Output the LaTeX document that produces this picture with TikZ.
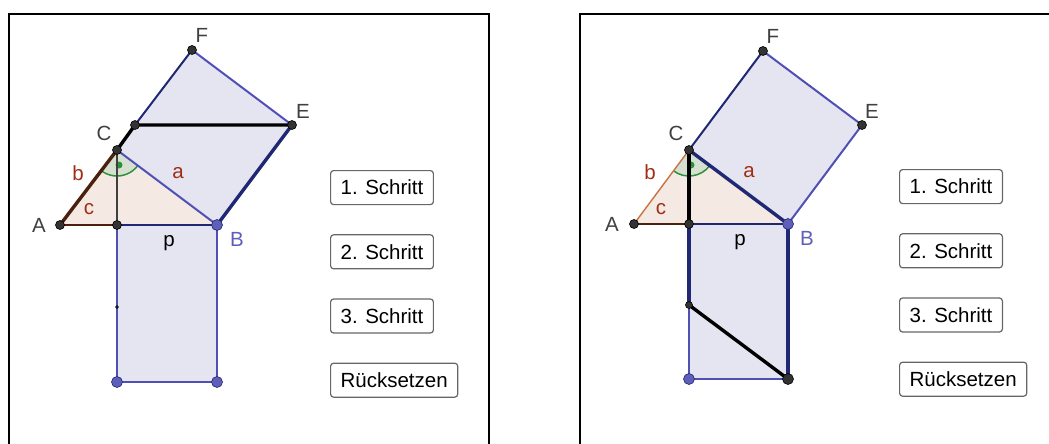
\documentclass[tikz,border=0pt]{standalone}
\usepackage{fontspec}
\setmainfont{Liberation Sans}
\usepackage{xcolor}
\usepackage{tikz}
\usetikzlibrary{positioning, angles}

\definecolor{lavendel}{RGB}{229,229,242}
\definecolor{rosa}{RGB}{245,233,228}
\definecolor{kante}{RGB}{80,80,180}
\definecolor{dunkelblau}{RGB}{32,40,115}
\definecolor{braun}{RGB}{75,32,15}
\definecolor{ocker}{RGB}{200,115,65}
\definecolor{rotbraun}{RGB}{160,45,20}
\definecolor{grau}{RGB}{64,64,64}
\definecolor{punktblau}{RGB}{95,95,185}
\definecolor{gruen}{RGB}{45,145,60}
\definecolor{winkel}{RGB}{214,224,208}

\begin{document}
\begin{tikzpicture}[x=1pt, y=-1pt, font=\fontsize{20.5}{24}\selectfont]

\tikzstyle{knopf} =
[rectangle,
rounded corners=3pt,
minimum height=34pt,
inner xsep=10pt,
inner ysep=0pt,
draw=black!60,
line width=1.2pt]

\tikzstyle{punkt} =
[circle,
inner sep=0pt,
minimum size=9pt,
fill=black!80,
draw=black,
line width=0.6pt]

\tikzstyle{bpunkt} =
[punkt,
minimum size=11pt,
fill=punktblau,
draw=dunkelblau]

\tikzstyle{ptname} = [inner sep=0pt, text=grau]
\tikzstyle{seite} = [inner sep=0pt, text=rotbraun]
\tikzstyle{duenn} = [line width=2pt, line cap=round]
\tikzstyle{dick} = [line width=3.4pt, line cap=round]

\useasboundingbox (0,0) rectangle (1049,444);

% Rahmen
\draw[line width=2.5pt] (9,450) -- (9,14) -- (489,14) -- (489,450);
\draw[line width=2.5pt] (580,450) -- (580,14) -- (1060,14);

% linkes Bild: 1. Schritt
\begin{scope}
\coordinate (A1) at (60,225);
\coordinate (H1) at (117,225);
\coordinate (B1) at (217,225);
\coordinate (C1) at (117,150);
\coordinate (E1) at (292,125);
\coordinate (F1) at (192,50);
\coordinate (G1) at (135,125);
\coordinate (P1) at (117,307);
\coordinate (R1) at (117,382);
\coordinate (S1) at (217,382);

\fill[lavendel] (C1) -- (B1) -- (E1) -- (F1) -- cycle;
\fill[lavendel] (H1) -- (B1) -- (S1) -- (R1) -- cycle;
\fill[rosa] (A1) -- (B1) -- (C1) -- cycle;
\pic [draw=gruen, fill=winkel, line width=1.5pt, angle radius=26pt] {angle = A1--C1--B1};
\node (W1) [circle, fill=gruen, inner sep=0pt, minimum size=7pt] at (119,165) {};

\draw[duenn, kante] (E1) -- (F1);
\draw[duenn, dunkelblau] (F1) -- (G1);
\draw[duenn, kante] (C1) -- (B1);
\draw[duenn, kante] (H1) -- (R1) -- (S1) -- (B1);
\draw[duenn, dunkelblau] (H1) -- (B1);
\draw[duenn, braun] (A1) -- (H1);
\draw[line width=1.3pt, black!75] (C1) -- (H1);
\draw[dick, braun] (A1) -- (C1);
\draw[dick] (C1) -- (G1) -- (E1);
\draw[dick, dunkelblau] (E1) -- (B1);

\node (pA1) [punkt] at (A1) {};
\node (pH1) [punkt] at (H1) {};
\node (pC1) [punkt] at (C1) {};
\node (pG1) [punkt] at (G1) {};
\node (pE1) [punkt] at (E1) {};
\node (pF1) [punkt] at (F1) {};
\node (pP1) [punkt, minimum size=3pt] at (P1) {};
\node (pB1) [bpunkt] at (B1) {};
\node (pR1) [bpunkt] at (R1) {};
\node (pS1) [bpunkt] at (S1) {};

\node (nF1) [ptname] at (202,35) {F};
\node (nE1) [ptname] at (303,111) {E};
\node (nC1) [ptname] at (104,133) {C};
\node (nA1) [ptname] at (39,225) {A};
\node (nB1) [ptname, text=punktblau] at (237,239) {B};
\node (na1) [seite] at (178,173) {a};
\node (nb1) [seite] at (78,173) {b};
\node (nc1) [seite] at (89,209) {c};
\node (np1) [inner sep=0pt] at (169,243) {p};

\node (schritt1) [knopf, anchor=north west] at (330,170) {1. Schritt};
\node (schritt2) [knopf, below=29pt of schritt1.south west, anchor=north west] {2. Schritt};
\node (schritt3) [knopf, below=29pt of schritt2.south west, anchor=north west] {3. Schritt};
\node (reset1) [knopf, below=29pt of schritt3.south west, anchor=north west] {Rücksetzen};
\end{scope}

% rechtes Bild: 2. Schritt
\begin{scope}[xshift=571pt]
\coordinate (A2) at (63,224);
\coordinate (H2) at (118,224);
\coordinate (B2) at (217,224);
\coordinate (C2) at (118,150);
\coordinate (E2) at (291,125);
\coordinate (F2) at (192,51);
\coordinate (P2) at (118,305);
\coordinate (R2) at (118,379);
\coordinate (S2) at (217,379);

\fill[lavendel] (C2) -- (B2) -- (E2) -- (F2) -- cycle;
\fill[lavendel] (H2) -- (B2) -- (S2) -- (R2) -- cycle;
\fill[rosa] (A2) -- (B2) -- (C2) -- cycle;
\pic [draw=gruen, fill=winkel, line width=1.5pt, angle radius=26pt] {angle = A2--C2--B2};
\node (W2) [circle, fill=gruen, inner sep=0pt, minimum size=7pt] at (120,165) {};

\draw[duenn, kante] (B2) -- (E2) -- (F2);
\draw[duenn, dunkelblau] (F2) -- (C2);
\draw[duenn, kante] (P2) -- (R2) -- (S2);
\draw[duenn, dunkelblau] (H2) -- (B2);
\draw[duenn, braun] (A2) -- (H2);
\draw[line width=1.4pt, ocker] (A2) -- (C2);
\draw[dick, dunkelblau] (C2) -- (B2);
\draw[dick, dunkelblau] (H2) -- (P2);
\draw[dick, dunkelblau] (B2) -- (S2);
\draw[dick] (C2) -- (H2);
\draw[dick] (P2) -- (S2);

\node (pA2) [punkt] at (A2) {};
\node (pH2) [punkt] at (H2) {};
\node (pC2) [punkt] at (C2) {};
\node (pE2) [punkt] at (E2) {};
\node (pF2) [punkt] at (F2) {};
\node (pP2) [punkt, minimum size=7pt] at (P2) {};
\node (pB2) [bpunkt] at (B2) {};
\node (pR2) [bpunkt] at (R2) {};
\node (pS2) [punkt, minimum size=11pt] at (S2) {};

\node (nF2) [ptname] at (202,36) {F};
\node (nE2) [ptname] at (301,111) {E};
\node (nC2) [ptname] at (105,133) {C};
\node (nA2) [ptname] at (41,224) {A};
\node (nB2) [ptname, text=punktblau] at (236,238) {B};
\node (na2) [seite] at (178,172) {a};
\node (nb2) [seite] at (79,172) {b};
\node (nc2) [seite] at (90,209) {c};
\node (np2) [inner sep=0pt] at (169,242) {p};

\node (schritt1r) [knopf, anchor=north west] at (328,169) {1. Schritt};
\node (schritt2r) [knopf, below=29pt of schritt1r.south west, anchor=north west] {2. Schritt};
\node (schritt3r) [knopf, below=29pt of schritt2r.south west, anchor=north west] {3. Schritt};
\node (reset2) [knopf, below=29pt of schritt3r.south west, anchor=north west] {Rücksetzen};
\end{scope}

\end{tikzpicture}
\end{document}
